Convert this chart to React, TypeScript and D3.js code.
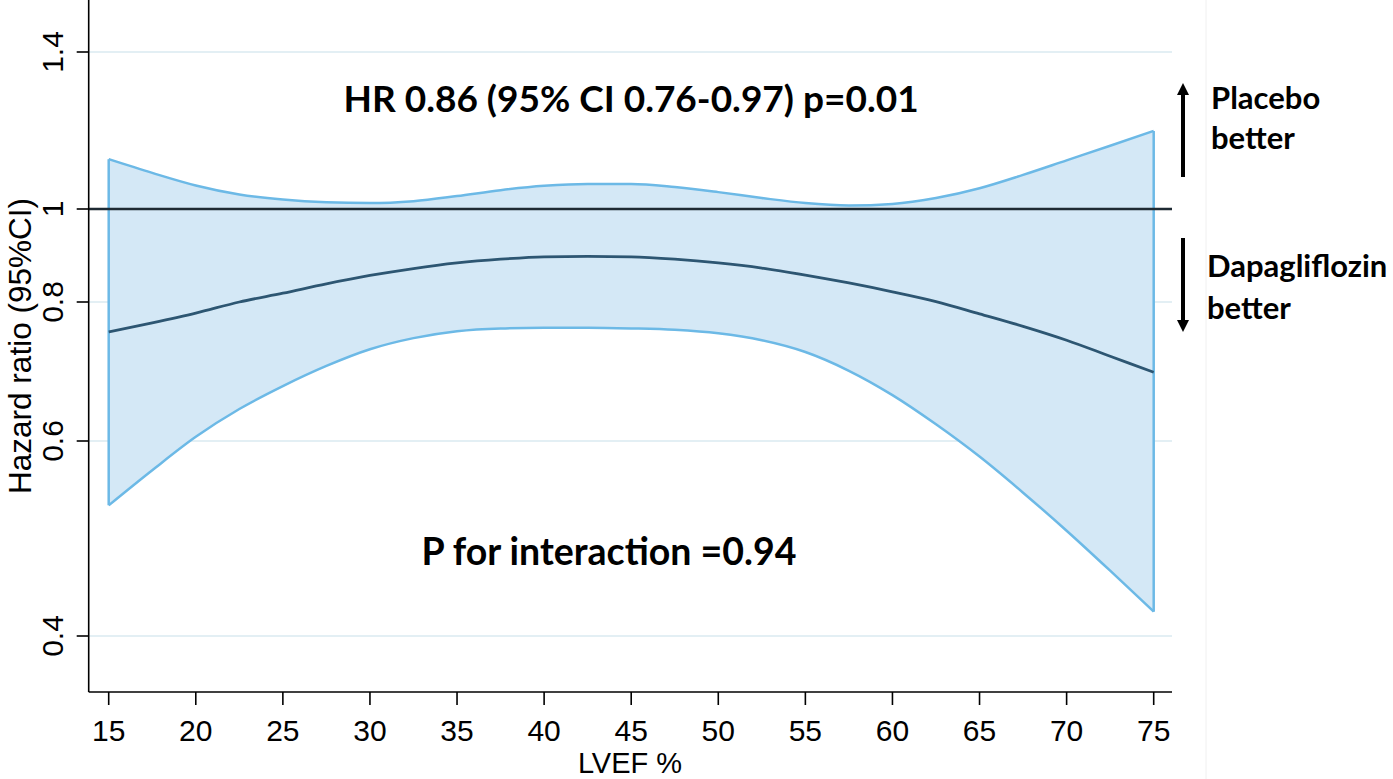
import React from "react";
import * as d3 from "d3";

const lvef = [15, 17.5, 20, 22.5, 25, 27.5, 30, 32.5, 35, 37.5, 40, 42.5, 45, 47.5, 50, 52.5, 55, 57.5, 60, 62.5, 65, 67.5, 70, 72.5, 75];
const hrEstimate = [0.757, 0.770, 0.784, 0.800, 0.819, 0.839, 0.857, 0.872, 0.884, 0.892, 0.897, 0.898, 0.897, 0.892, 0.884, 0.873, 0.858, 0.841, 0.822, 0.801, 0.783, 0.765, 0.745, 0.722, 0.699];
const ciUpper = [1.127, 1.092, 1.060, 1.037, 1.024, 1.017, 1.015, 1.020, 1.033, 1.048, 1.059, 1.064, 1.064, 1.056, 1.043, 1.028, 1.015, 1.009, 1.013, 1.028, 1.053, 1.087, 1.124, 1.161, 1.199];
const ciLower = [0.534, 0.570, 0.606, 0.646, 0.679, 0.708, 0.732, 0.748, 0.758, 0.762, 0.763, 0.763, 0.762, 0.760, 0.755, 0.745, 0.728, 0.701, 0.666, 0.624, 0.584, 0.547, 0.508, 0.467, 0.425];

const xTicks = [15, 20, 25, 30, 35, 40, 45, 50, 55, 60, 65, 70, 75];
const yTicks = [0.4, 0.6, 0.8, 1, 1.4];
const yTickLabels = ["0.4", "0.6", "0.8", "1", "1.4"];
const gridValues = [0.4, 0.6, 0.8, 1.4];
const referenceValue = 1;

const titleText = "HR 0.86 (95% CI 0.76-0.97) p=0.01";
const interactionText = "P for interaction =0.94";
const xLabel = "LVEF %";
const yLabel = "Hazard ratio (95%CI)";
const upLabel = ["Placebo", "better"];
const downLabel = ["Dapagliflozin", "better"];

export default function App() {
  const W = 1393;
  const H = 779;
  const axisX = 88.7;
  const axisY = 692;
  const plotRight = 1172;

  const x = d3.scaleLinear().domain([15, 75]).range([108.7, 1153.7]);
  const y = d3.scaleLinear().domain([0.4, 0.6, 0.8, 1, 1.4]).range([636, 441, 302, 209, 52]);

  const rows = lvef.map((v, i) => ({ x: v, est: hrEstimate[i], lo: ciLower[i], hi: ciUpper[i] }));

  const curve = d3.curveMonotoneX;
  const area = d3
    .area<any>()
    .x((d) => x(d.x))
    .y0((d) => y(d.lo))
    .y1((d) => y(d.hi))
    .curve(curve);
  const upperLine = d3.line<any>().x((d) => x(d.x)).y((d) => y(d.hi)).curve(curve);
  const lowerLine = d3.line<any>().x((d) => x(d.x)).y((d) => y(d.lo)).curve(curve);
  const estLine = d3.line<any>().x((d) => x(d.x)).y((d) => y(d.est)).curve(curve);

  const first = rows[0];
  const last = rows[rows.length - 1];

  const bold = "Lato, 'Open Sans', sans-serif";
  const sans = "'Liberation Sans', Arial, sans-serif";

  const arrowX = 1183;

  return (
    <svg width={W} height={H} style={{ position: "absolute", left: 0, top: 0, background: "#fff" }}>
      <rect x={0} y={0} width={W} height={H} fill="#fff" />
      <line x1={1206} x2={1206} y1={0} y2={H} stroke="#f0f0f0" strokeWidth={1} />
      {gridValues.map((g) => (
        <line key={g} x1={axisX} x2={plotRight} y1={y(g)} y2={y(g)} stroke="#e3eff4" strokeWidth={2} />
      ))}
      <path d={area(rows) || ""} fill="#d4e8f6" stroke="none" />
      <path d={upperLine(rows) || ""} fill="none" stroke="#6cb9e6" strokeWidth={2.5} />
      <path d={lowerLine(rows) || ""} fill="none" stroke="#6cb9e6" strokeWidth={2.5} />
      <line x1={x(first.x)} x2={x(first.x)} y1={y(first.hi)} y2={y(first.lo)} stroke="#6cb9e6" strokeWidth={2.5} />
      <line x1={x(last.x)} x2={x(last.x)} y1={y(last.hi)} y2={y(last.lo)} stroke="#6cb9e6" strokeWidth={2.5} />
      <line x1={axisX} x2={plotRight} y1={y(referenceValue)} y2={y(referenceValue)} stroke="#1e2a33" strokeWidth={2.6} />
      <path d={estLine(rows) || ""} fill="none" stroke="#2d5672" strokeWidth={2.8} />

      {/* axes */}
      <line x1={axisX} x2={axisX} y1={0} y2={axisY} stroke="#000" strokeWidth={1.6} />
      <line x1={axisX} x2={plotRight} y1={axisY} y2={axisY} stroke="#000" strokeWidth={1.6} />
      {xTicks.map((t) => (
        <g key={t}>
          <line x1={x(t)} x2={x(t)} y1={axisY} y2={axisY + 13} stroke="#000" strokeWidth={1.6} />
          <text x={x(t)} y={741} textAnchor="middle" fontFamily={sans} fontSize={30} fill="#000">
            {t}
          </text>
        </g>
      ))}
      {yTicks.map((t, i) => (
        <g key={t}>
          <line x1={axisX - 12} x2={axisX} y1={y(t)} y2={y(t)} stroke="#000" strokeWidth={1.6} />
          <text
            transform={`translate(63,${y(t)}) rotate(-90)`}
            textAnchor="middle"
            fontFamily={sans}
            fontSize={30}
            fill="#000"
          >
            {yTickLabels[i]}
          </text>
        </g>
      ))}
      <text x={630} y={773} textAnchor="middle" fontFamily={sans} fontSize={29} fill="#000">
        {xLabel}
      </text>
      <text transform="translate(31,346) rotate(-90)" textAnchor="middle" fontFamily={sans} fontSize={31.5} fill="#000">
        {yLabel}
      </text>

      {/* annotations */}
      <text x={631} y={112} textAnchor="middle" fontFamily={bold} fontWeight={700} fontSize={37} fill="#000">
        {titleText}
      </text>
      <text x={609} y={565} textAnchor="middle" fontFamily={bold} fontWeight={700} fontSize={37.5} fill="#000">
        {interactionText}
      </text>

      <line x1={arrowX} x2={arrowX} y1={177} y2={93} stroke="#000" strokeWidth={4} />
      <path d={`M${arrowX},83 L${arrowX - 6},95 L${arrowX + 6},95 Z`} fill="#000" />
      <line x1={arrowX} x2={arrowX} y1={238} y2={322} stroke="#000" strokeWidth={4} />
      <path d={`M${arrowX},332 L${arrowX - 6},320 L${arrowX + 6},320 Z`} fill="#000" />

      <text x={1211} y={109} fontFamily={bold} fontWeight={700} fontSize={31} fill="#000">
        {upLabel[0]}
      </text>
      <text x={1211} y={149} fontFamily={bold} fontWeight={700} fontSize={31} fill="#000">
        {upLabel[1]}
      </text>
      <text x={1207} y={277} fontFamily={bold} fontWeight={700} fontSize={31} fill="#000">
        {downLabel[0]}
      </text>
      <text x={1207} y={319} fontFamily={bold} fontWeight={700} fontSize={31} fill="#000">
        {downLabel[1]}
      </text>
    </svg>
  );
}
